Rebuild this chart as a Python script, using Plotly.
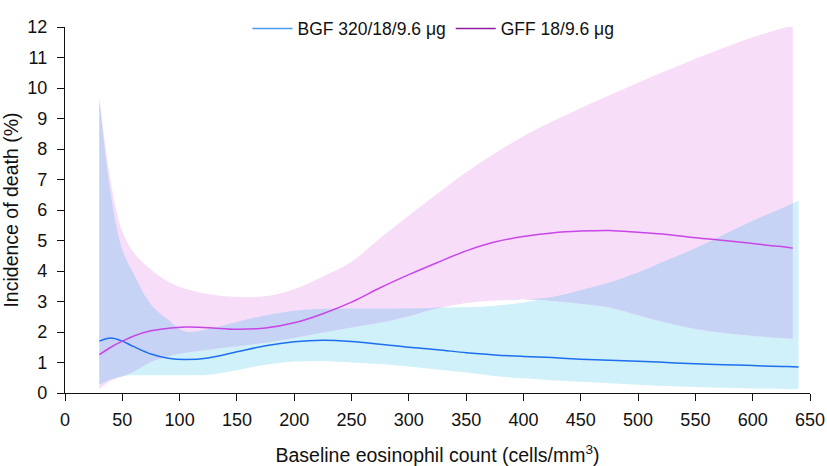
import numpy as np
import plotly.graph_objects as go

# baseline eosinophil count (cells/mm3)
eos = [30, 40, 50, 60, 75, 90, 105, 125, 150, 175, 200, 225, 250, 275, 300,
       325, 350, 375, 400, 425, 450, 475, 500, 525, 550, 575, 600, 625, 635, 640]

# BGF 320/18/9.6 ug (runs to 640)
bgf = [1.70, 1.80, 1.70, 1.52, 1.28, 1.14, 1.10, 1.15, 1.35, 1.55, 1.68, 1.73, 1.69, 1.60, 1.50,
       1.42, 1.32, 1.25, 1.20, 1.16, 1.11, 1.07, 1.04, 1.00, 0.96, 0.93, 0.90, 0.87, 0.86, 0.85]
bgf_hi = [9.6, 6.5, 4.7, 3.9, 2.9, 2.4, 2.02, 2.1, 2.33, 2.55, 2.7, 2.76, 2.77, 2.77, 2.78,
          2.8, 2.81, 2.86, 2.97, 3.15, 3.37, 3.62, 3.95, 4.35, 4.75, 5.2, 5.65, 6.05, 6.22, 6.3]
bgf_lo = [0.27, 0.45, 0.55, 0.58, 0.58, 0.58, 0.58, 0.6, 0.75, 0.93, 1.03, 1.05, 1.0, 0.95, 0.87,
          0.77, 0.67, 0.56, 0.48, 0.42, 0.37, 0.32, 0.27, 0.23, 0.2, 0.17, 0.15, 0.13, 0.12, 0.12]

# GFF 18/9.6 ug (runs to 635)
gff = [1.26, 1.5, 1.7, 1.87, 2.04, 2.12, 2.16, 2.14, 2.09, 2.13, 2.3, 2.6, 2.98, 3.45, 3.88,
       4.28, 4.66, 4.95, 5.13, 5.25, 5.31, 5.33, 5.27, 5.2, 5.09, 5.0, 4.9, 4.8, 4.75]
gff_hi = [9.7, 6.9, 5.3, 4.6, 4.05, 3.65, 3.42, 3.25, 3.15, 3.17, 3.4, 3.82, 4.3, 5.08, 5.82,
          6.54, 7.24, 7.86, 8.42, 8.9, 9.34, 9.76, 10.17, 10.57, 10.96, 11.32, 11.66, 11.95, 12.05]
gff_lo = [0.13, 0.4, 0.55, 0.7, 1.02, 1.2, 1.32, 1.42, 1.53, 1.65, 1.8, 1.98, 2.15, 2.3, 2.52,
          2.78, 2.95, 3.03, 3.07, 3.02, 2.93, 2.8, 2.55, 2.3, 2.1, 1.97, 1.88, 1.8, 1.78]

x_bgf = eos
x_gff = eos[:len(gff)]

# overlap of the two bands
n = len(gff)
ov_hi = np.minimum(np.array(gff_hi), np.array(bgf_hi[:n]))
ov_lo = np.maximum(np.array(gff_lo), np.array(bgf_lo[:n]))
ov_hi = np.maximum(ov_hi, ov_lo)

CYAN = "#d0f1f9"
PINK = "#f8ddf9"
OVER = "#c7d3f5"

fig = go.Figure()


def band(x, hi, lo, color):
    fig.add_trace(go.Scatter(x=x, y=hi, mode="lines", line=dict(width=0, shape="spline"),
                             showlegend=False, hoverinfo="skip"))
    fig.add_trace(go.Scatter(x=x, y=lo, mode="lines", line=dict(width=0, shape="spline"),
                             fill="tonexty", fillcolor=color, showlegend=False, hoverinfo="skip"))


band(x_bgf, bgf_hi, bgf_lo, CYAN)
band(x_gff, gff_hi, gff_lo, PINK)
band(x_gff, ov_hi, ov_lo, OVER)

fig.add_trace(go.Scatter(x=x_bgf, y=bgf, mode="lines", showlegend=False,
                         line=dict(color="#1d6ef0", width=1.5, shape="spline")))
fig.add_trace(go.Scatter(x=x_gff, y=gff, mode="lines", showlegend=False,
                         line=dict(color="#c846e8", width=1.5, shape="spline")))

# legend entries
fig.add_trace(go.Scatter(x=[None], y=[None], mode="lines", name="BGF 320/18/9.6 μg",
                         line=dict(color="#4a9cf0", width=1.5)))
fig.add_trace(go.Scatter(x=[None], y=[None], mode="lines", name="GFF 18/9.6 μg",
                         line=dict(color="#8e1a9e", width=1.5)))

fig.update_layout(
    width=827, height=466,
    margin=dict(l=65, r=17, t=11, b=73),
    paper_bgcolor="white", plot_bgcolor="white",
    font=dict(family="Liberation Sans, Arial, sans-serif", size=18, color="#111"),
    legend=dict(orientation="h", x=0.4946, xanchor="center", y=1.045, yanchor="top",
                traceorder="normal", bgcolor="rgba(0,0,0,0)", font=dict(size=17.5),
                itemwidth=40),
)
fig.update_xaxes(range=[0, 650], dtick=50, tick0=0, showgrid=False, zeroline=False,
                 showline=True, linecolor="#111", linewidth=1.3, automargin=False,
                 ticks="outside", ticklen=7, tickwidth=1.3, tickcolor="#111",
                 tickfont=dict(size=18), ticklabelstandoff=3,
                 title=dict(text="Baseline eosinophil count (cells/mm<sup>3</sup>)",
                            font=dict(size=19.5), standoff=20))
fig.update_yaxes(range=[0, 12], dtick=1, tick0=0, showgrid=False, zeroline=False,
                 showline=True, linecolor="#111", linewidth=1.3, automargin=False,
                 ticks="outside", ticklen=7, tickwidth=1.3, tickcolor="#111",
                 tickfont=dict(size=18), ticklabelstandoff=6,
                 title=dict(text="Incidence of death (%)", font=dict(size=19.5), standoff=12))

fig.write_html("out.html", config={"displayModeBar": False},
               post_script="document.body.style.margin='0';")
